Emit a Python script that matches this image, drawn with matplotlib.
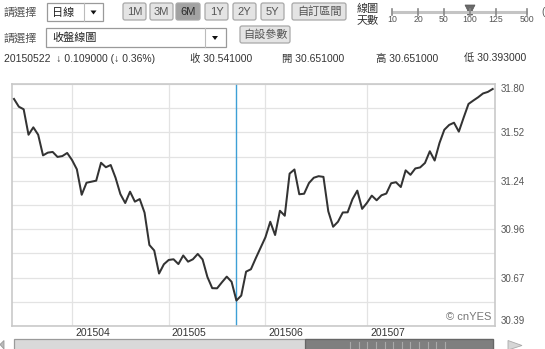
import numpy as np
import matplotlib
matplotlib.use("Agg")
import matplotlib.pyplot as plt
import matplotlib.transforms as mtransforms
from matplotlib.patches import Rectangle, Polygon, FancyBboxPatch

plt.rcParams['font.family'] = ['Liberation Sans', 'Noto Sans CJK TC', 'DejaVu Sans']

# ---------------- data ----------------
close = [31.713, 31.668, 31.653, 31.505, 31.548, 31.505, 31.385, 31.401, 31.405, 31.376,
         31.381, 31.399, 31.358, 31.304, 31.156, 31.226, 31.232, 31.238, 31.342, 31.316,
         31.329, 31.255, 31.160, 31.108, 31.174, 31.116, 31.131, 31.052, 30.864, 30.832,
         30.698, 30.752, 30.777, 30.781, 30.753, 30.803, 30.767, 30.781, 30.812, 30.780,
         30.678, 30.613, 30.612, 30.647, 30.680, 30.650, 30.541, 30.570, 30.709, 30.723,
         30.787, 30.848, 30.909, 30.999, 30.922, 31.063, 31.034, 31.279, 31.303, 31.159,
         31.162, 31.224, 31.255, 31.264, 31.260, 31.060, 30.970, 30.999, 31.053, 31.054,
         31.130, 31.180, 31.074, 31.109, 31.151, 31.124, 31.153, 31.163, 31.223, 31.229,
         31.201, 31.298, 31.272, 31.309, 31.315, 31.341, 31.409, 31.355, 31.457, 31.534,
         31.562, 31.575, 31.523, 31.605, 31.684, 31.704, 31.723, 31.745, 31.754, 31.771]
month_labels = ['201504', '201505', '201506', '201507']
month_start_index = [12, 32, 52, 73]
selected_index = 46
y_low, y_high = 30.393, 31.800
range_buttons = ['1M', '3M', '6M', '1Y', '2Y', '5Y']
active_button = '6M'
slider_days = ['10', '20', '50', '100', '125', '500']
active_days = '100'
info_line = '20150522  ↓ 0.109000 (↓ 0.36%)'
ohlc_labels = ['收 30.541000', '開 30.651000', '高 30.651000', '低 30.393000']

W, H = 545, 349
fig = plt.figure(figsize=(W / 100, H / 100), dpi=100)
fig.patch.set_facecolor('white')

# ---------------- UI overlay ----------------
ui = fig.add_axes([0, 0, 1, 1])
ui.set_xlim(0, W)
ui.set_ylim(H, 0)
ui.axis('off')

txt = dict(va='center', ha='left')
ui.text(4, 12, '請選擇', fontsize=8, color='#555555', **txt)
ui.text(4, 38, '請選擇', fontsize=8, color='#555555', **txt)

# dropdown 1
ui.add_patch(Rectangle((47, 3), 56, 18, fc='white', ec='#9a9a9a', lw=0.9))
ui.plot([84, 84], [3, 21], color='#bbbbbb', lw=0.8)
ui.text(52, 12.5, '日線', fontsize=8, color='#222222', **txt)
ui.add_patch(Polygon([(90.5, 10.5), (96.5, 10.5), (93.5, 14.5)], fc='#111111', ec='none'))

# dropdown 2
ui.add_patch(Rectangle((46, 28), 180, 19, fc='white', ec='#9a9a9a', lw=0.9))
ui.plot([205, 205], [28, 47], color='#bbbbbb', lw=0.8)
ui.text(52, 37.5, '收盤線圖', fontsize=8, color='#222222', **txt)
ui.add_patch(Polygon([(212, 36), (218, 36), (215, 40)], fc='#111111', ec='none'))


def button(x0, x1, y0, y1, label, fc='#e4e4e4', tc='#555555', fs=8, weight='normal'):
    ui.add_patch(FancyBboxPatch((x0, y0), x1 - x0, y1 - y0,
                                boxstyle='round,pad=0,rounding_size=2',
                                fc=fc, ec='#a8a8a8', lw=0.9))
    ui.text((x0 + x1) / 2, (y0 + y1) / 2 + 0.5, label, fontsize=fs, color=tc,
            ha='center', va='center', fontweight=weight)


bx = [123, 150, 176, 205, 233, 261]
for b, x0 in zip(range_buttons, bx):
    if b == active_button:
        button(x0, x0 + 24, 3, 20, b, fc='#a2a2a2', tc='#2a2a2a')
    else:
        button(x0, x0 + 23, 3, 20, b)
button(292, 346, 3, 20, '自訂區間', fs=8)
button(240, 290, 26, 43, '自設參數', fs=8)

# slider
ui.text(357, 9, '線圖', fontsize=8, color='#333333', **txt)
ui.text(357, 20.5, '天數', fontsize=8, color='#333333', **txt)
sx = [392, 418, 444, 470, 496, 527]
ui.plot([sx[0], sx[-1]], [11.5, 11.5], color='#c4c4c4', lw=2.2, solid_capstyle='butt')
for lab, x in zip(slider_days, sx):
    ui.plot([x, x], [8.5, 14.5], color='#888888', lw=1.2)
    ui.text(x, 19.5, lab, fontsize=6.3, color='#555555', ha='center', va='center')
    if lab == active_days:
        ui.add_patch(Polygon([(x - 5, 5), (x + 5, 5), (x + 2.5, 10), (x + 2.5, 15),
                              (x - 2.5, 15), (x - 2.5, 10)], fc='#6a6a6a', ec='#555555', lw=0.5))
ui.text(541, 12, '(', fontsize=7, color='#555555', **txt)

# info row
ui.text(4, 58.5, info_line, fontsize=7.5, color='#333333', **txt)
for lab, x in zip(ohlc_labels, [190, 282, 376, 464]):
    ui.text(x, 58.5, lab, fontsize=7.5, color='#333333', **txt)

# scrollbar
ui.add_patch(Rectangle((14, 339), 479, 12, fc='#d9d9d9', ec='#9a9a9a', lw=0.9))
ui.add_patch(Rectangle((305, 339), 188, 12, fc='#7f7f7f', ec='#666666', lw=0.9))
for xx in np.linspace(350, 445, 12):
    ui.plot([xx, xx], [342, 349], color='#a9a9a9', lw=0.8)
ui.add_patch(Polygon([(0, 344.5), (4, 340.5), (4, 349)], fc='#bbbbbb', ec='#999999', lw=0.6))
ui.add_patch(Polygon([(508, 340.5), (522, 345.5), (508, 350)], fc='#d6d6d6', ec='#aaaaaa', lw=0.6))

# ---------------- main chart ----------------
L, R, T, B = 12, 495, 84, 326
ax = fig.add_axes([L / W, (H - B) / H, (R - L) / W, (B - T) / H])
ax.set_facecolor('white')
x = np.arange(len(close))
ax.plot(x, close, color='#333333', lw=1.45, zorder=3, solid_joinstyle='round')
ax.axvline(selected_index, color='#3d9fd6', lw=1.0, zorder=2)

ax.set_xlim(-0.414, 99.48)
ax.set_ylim(y_low, y_high)

yt = np.linspace(y_low, y_high, 11)
ax.set_yticks(yt)
ax.set_yticklabels([f'{v:.2f}' if k % 2 == 0 else '' for k, v in enumerate(yt)])
ax.yaxis.tick_right()
ax.tick_params(axis='y', length=0, pad=4, labelsize=7, labelcolor='#555555')
labs = ax.get_yticklabels()
labs[0].set_va('bottom')
labs[-1].set_va('top')

ax.set_xticks(month_start_index)
ax.set_xticklabels(month_labels)
ax.tick_params(axis='x', length=0, pad=1.5, labelsize=7.5, labelcolor='#333333')
off = mtransforms.ScaledTranslation(3 / 100, 0, fig.dpi_scale_trans)
for lab in ax.get_xticklabels():
    lab.set_ha('left')
    lab.set_transform(lab.get_transform() + off)

ax.grid(True, color='#e3e3e3', lw=0.9, zorder=0)
ax.set_axisbelow(True)
for s in ax.spines.values():
    s.set_color('#c9c9c9')
    s.set_linewidth(1.2)

ax.text(0.992, 0.037, '© cnYES', transform=ax.transAxes, fontsize=8,
        color='#777777', ha='right', va='center')

fig.savefig('out.png', dpi=100, facecolor='white')
